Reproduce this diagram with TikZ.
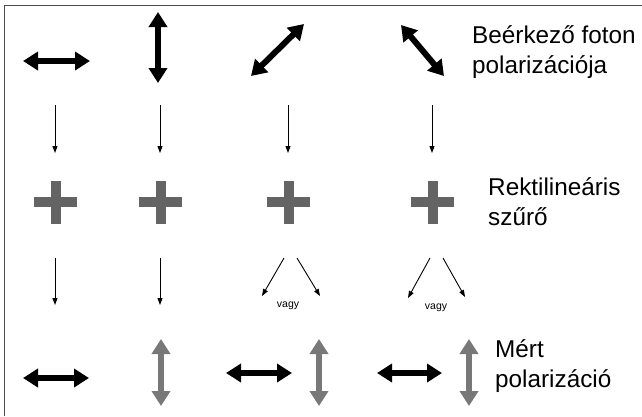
\documentclass[tikz,border=0pt]{standalone}
\usepackage{fontspec}
\setmainfont{Liberation Sans}
\usetikzlibrary{arrows.meta,calc}
\definecolor{crossgray}{RGB}{100,100,100}
\definecolor{pgray}{RGB}{120,120,120}
\begin{document}
\begin{tikzpicture}[x=1pt,y=-1pt,
  pol/.style={line width=6pt,
    {Triangle[width=18pt,length=15pt]}-{Triangle[width=18pt,length=15pt]}},
  polblack/.style={pol,black},
  polgray/.style={pol,pgray},
  thin/.style={line width=0.9pt,-{Triangle[width=5pt,length=7pt]}},
  label/.style={font=\fontsize{24.3}{30}\selectfont,align=left,anchor=west,inner sep=0pt},
  small/.style={font=\fontsize{10.5}{12}\selectfont,inner sep=0pt},
  frame/.style={draw=black!70,line width=1pt}]
\useasboundingbox (0,0) rectangle (642,416);
\draw[frame] (4,416) -- (4,5) -- (642,5);

% incoming photon polarisations
\coordinate (i1a) at (23,61);  \coordinate (i1b) at (90,61);
\coordinate (i2a) at (158,12); \coordinate (i2b) at (158,83);
\coordinate (i3a) at (251,76); \coordinate (i3b) at (304,24);
\coordinate (i4a) at (401,25); \coordinate (i4b) at (444,76);
\draw[polblack] (i1a) -- (i1b);
\draw[polblack] (i2a) -- (i2b);
\draw[polblack] (i3a) -- (i3b);
\draw[polblack] (i4a) -- (i4b);
\node[label] (t1) at (472,52) {Beérkező foton\\polarizációja};

% arrows towards the filter
\foreach \n/\x in {1/55,2/160,3/288,4/432}{
  \coordinate (d\n a) at (\x,105);
  \coordinate (d\n b) at (\x,153);
  \draw[thin] (d\n a) -- (d\n b);
}

% rectilinear filters
\foreach \n/\x in {1/55.5,2/160.5,3/288.5,4/432.5}{
  \coordinate (f\n) at (\x,202);
  \fill[crossgray] ($(f\n)+(-21.5,-5)$) rectangle ($(f\n)+(21.5,5)$);
  \fill[crossgray] ($(f\n)+(-5,-21.5)$) rectangle ($(f\n)+(5,21.5)$);
}
\node[label] (t2) at (488,202) {Rektilineáris\\szűrő};

% arrows towards the measurement
\coordinate (e1a) at (55,258);  \coordinate (e1b) at (55,305);
\coordinate (e2a) at (160,258); \coordinate (e2b) at (160,305);
\draw[thin] (e1a) -- (e1b);
\draw[thin] (e2a) -- (e2b);
\coordinate (e3s) at (284,258); \coordinate (e3l) at (262,296);
\coordinate (e3t) at (297,258); \coordinate (e3r) at (320,296);
\draw[thin] (e3s) -- (e3l);
\draw[thin] (e3t) -- (e3r);
\node[small] (v3) at (288,306) {vagy};
\coordinate (e4s) at (430,258); \coordinate (e4l) at (408,298);
\coordinate (e4t) at (443,258); \coordinate (e4r) at (465,297);
\draw[thin] (e4s) -- (e4l);
\draw[thin] (e4t) -- (e4r);
\node[small] (v4) at (436,308) {vagy};

% measured polarisations
\coordinate (m1a) at (23,378);  \coordinate (m1b) at (89,378);
\coordinate (m2a) at (161,339); \coordinate (m2b) at (161,406);
\coordinate (m3a) at (226,373); \coordinate (m3b) at (292,373);
\coordinate (m4a) at (319,339); \coordinate (m4b) at (319,406);
\coordinate (m5a) at (377,373); \coordinate (m5b) at (442,373);
\coordinate (m6a) at (469,339); \coordinate (m6b) at (469,406);
\draw[polblack] (m1a) -- (m1b);
\draw[polgray] (m2a) -- (m2b);
\draw[polblack] (m3a) -- (m3b);
\draw[polgray] (m4a) -- (m4b);
\draw[polblack] (m5a) -- (m5b);
\draw[polgray] (m6a) -- (m6b);
\node[label] (t3) at (495,366) {Mért\\polarizáció};
\end{tikzpicture}
\end{document}
